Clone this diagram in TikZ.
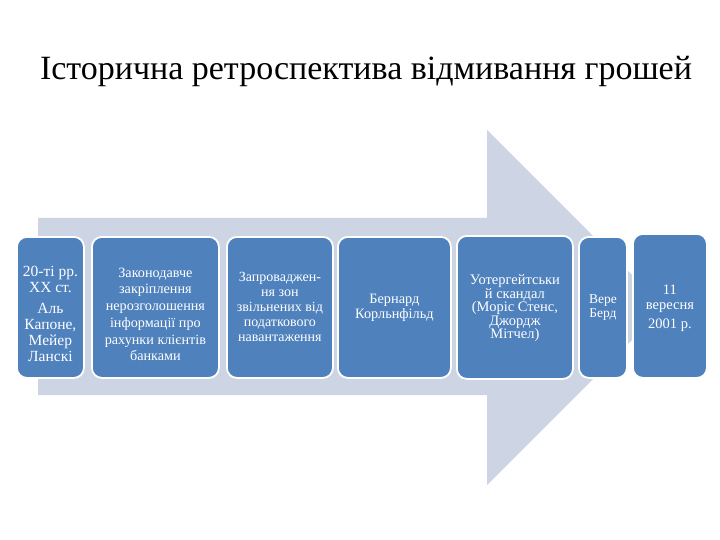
\documentclass[tikz,border=0pt]{standalone}
\usepackage{fontspec}
\setmainfont{Liberation Serif}
\definecolor{boxblue}{RGB}{79,129,189}
\definecolor{arrowlav}{RGB}{205,213,228}
\tikzset{
  card/.style={rectangle, rounded corners=10pt, fill=boxblue, draw=white, line width=1.8pt, anchor=north west, inner sep=0pt},
  lbl/.style={text=white, align=center, inner sep=0pt},
}
\begin{document}
\begin{tikzpicture}[x=1pt,y=-1pt]
\useasboundingbox (0,0) rectangle (720,540);
\fill[white] (0,0) rectangle (720,540);
% title
\node[anchor=base, inner sep=0pt, font=\fontsize{34}{38}\selectfont] (title) at (366,80) {Історична ретроспектива відмивання грошей};
% big arrow
\fill[arrowlav] (38,218) -- (487,218) -- (487,130) -- (664.5,307.5) -- (487,485) -- (487,395) -- (38,395) -- cycle;
% boxes
\node[card, minimum width=67pt, minimum height=141pt] (b1) at (16,236) {};
\node[card, minimum width=127pt, minimum height=141pt] (b2) at (91,236) {};
\node[card, minimum width=106pt, minimum height=141pt] (b3) at (226,236) {};
\node[card, minimum width=113pt, minimum height=141pt] (b4) at (337,236) {};
\node[card, minimum width=116pt, minimum height=143pt] (b5) at (456,235) {};
\node[card, minimum width=48pt, minimum height=141pt] (b6) at (578,236) {};
\node[card, minimum width=74pt, minimum height=144pt] (b7) at (632,233) {};
% labels
\node[lbl, font=\fontsize{15.5}{16}\selectfont] (t1) at ([yshift=-7pt]b1.center) {20-ті рр.\\ХХ ст.\\[5pt]Аль\\Капоне,\\Мейер\\Ланскі};
\node[lbl, font=\fontsize{14.2}{16.7}\selectfont] (t2) at ([yshift=-7pt]b2.center) {Законодавче\\закріплення\\нерозголошення\\інформації про\\рахунки клієнтів\\банками};
\node[lbl, font=\fontsize{14}{15}\selectfont] (t3) at (b3.center) {Запроваджен-\\ня зон\\звільнених від\\податкового\\навантаження};
\node[lbl, font=\fontsize{14.3}{15}\selectfont] (t4) at (b4.center) {Бернард\\Корльнфільд};
\node[lbl, font=\fontsize{14.5}{13.5}\selectfont] (t5) at ([yshift=-1pt]b5.center) {Уотергейтськи\\й скандал\\(Моріс Стенс,\\Джордж\\Мітчел)};
\node[lbl, font=\fontsize{13.5}{14}\selectfont] (t6) at (b6.center) {Вере\\Берд};
\node[lbl, font=\fontsize{14.5}{15}\selectfont] (t7) at ([yshift=-2pt]b7.center) {11\\вересня\\[4pt]2001 р.};
\end{tikzpicture}
\end{document}
